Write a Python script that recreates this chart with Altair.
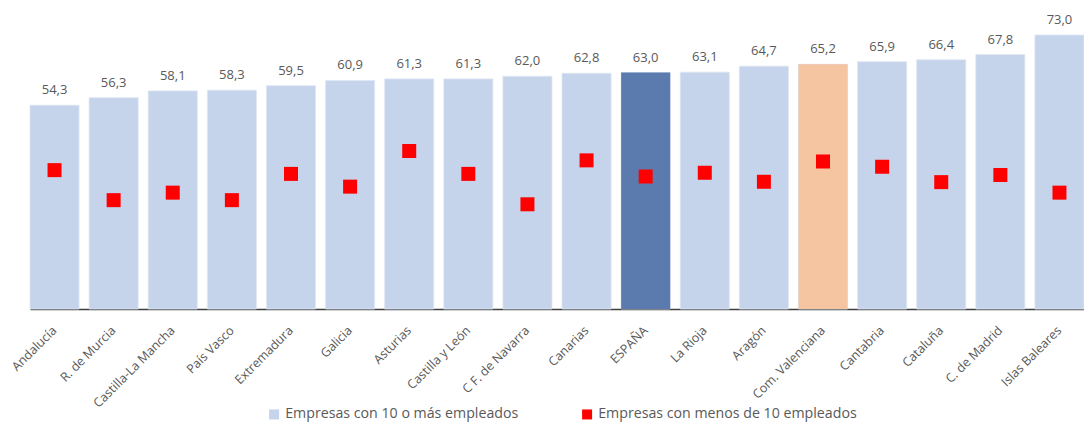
import altair as alt
import pandas as pd

regions = ["Andalucía", "R. de Murcia", "Castilla-La Mancha", "País Vasco", "Extremadura",
           "Galicia", "Asturias", "Castilla y León", "C F. de Navarra", "Canarias", "ESPAÑA",
           "La Rioja", "Aragón", "Com. Valenciana", "Cantabria", "Cataluña", "C. de Madrid",
           "Islas Baleares"]
big = [54.3, 56.3, 58.1, 58.3, 59.5, 60.9, 61.3, 61.3, 62.0, 62.8, 63.0,
       63.1, 64.7, 65.2, 65.9, 66.4, 67.8, 73.0]
small = [37.0, 29.0, 31.0, 29.0, 36.0, 32.6, 42.1, 36.0, 27.9, 39.6, 35.3,
         36.3, 33.9, 39.3, 37.9, 33.8, 35.7, 31.0]
series = ["Empresas con 10 o más empleados", "Empresas con menos de 10 empleados"]

df = pd.DataFrame({
    "region": regions,
    "big": big,
    "small": small,
    "label": [f"{v:.1f}".replace(".", ",") for v in big],
    "s_big": series[0],
    "s_small": series[1],
})

FONT = "Open Sans"
x = alt.X("region:N", sort=regions, title=None,
          scale=alt.Scale(paddingInner=0.17, paddingOuter=0),
          axis=alt.Axis(labelAngle=-45, labelAlign="right", labelBaseline="middle",
                        labelPadding=19, ticks=False, domainColor="#404040", domainWidth=1.5,
                        labelColor="#595959", labelFont=FONT, labelFontSize=12.5,
                        labelLimit=300))
yscale = alt.Scale(domain=[0, 77])
cscale = alt.Scale(domain=series, range=["#c5d4eb", "#ff0000"])

bars = alt.Chart(df).mark_bar(stroke="#dde6f3", strokeWidth=0.8).encode(
    x=x,
    y=alt.Y("big:Q", scale=yscale, axis=None),
    color=alt.Color("s_big:N", scale=cscale,
                    legend=alt.Legend(title=None, orient="none", legendX=237, legendY=387,
                                      direction="horizontal", symbolType="square",
                                      symbolSize=100, labelFont=FONT, labelFontSize=14.2,
                                      labelColor="#595959", labelOffset=4, columnPadding=61,
                                      symbolStrokeWidth=0, labelLimit=500)),
)

hl = alt.Chart(df).transform_filter(
    "datum.region == 'ESPAÑA' || datum.region == 'Com. Valenciana'"
).mark_bar().encode(
    x=x,
    y=alt.Y("big:Q", scale=yscale, axis=None),
    fill=alt.condition("datum.region == 'ESPAÑA'", alt.value("#5b7aae"), alt.value("#f5c4a0")),
)

labels = alt.Chart(df).mark_text(dy=-8, baseline="bottom", font=FONT, fontSize=13,
                                 color="#595959").encode(
    x=x,
    y=alt.Y("big:Q", scale=yscale, axis=None),
    text="label:N",
)

pts = alt.Chart(df).mark_square(size=196, opacity=1, filled=True).encode(
    x=x,
    y=alt.Y("small:Q", scale=yscale, axis=None),
    color=alt.Color("s_small:N", scale=cscale),
)

chart = alt.layer(bars, hl, labels, pts).resolve_scale(color="shared").properties(
    width=1054, height=289,
    autosize="none",
    padding={"left": 22, "top": 12, "right": 0, "bottom": 113},
).configure(background="white").configure_view(stroke=None, strokeWidth=0)

chart.save("out.html", embed_options={"renderer": "svg", "actions": False})
